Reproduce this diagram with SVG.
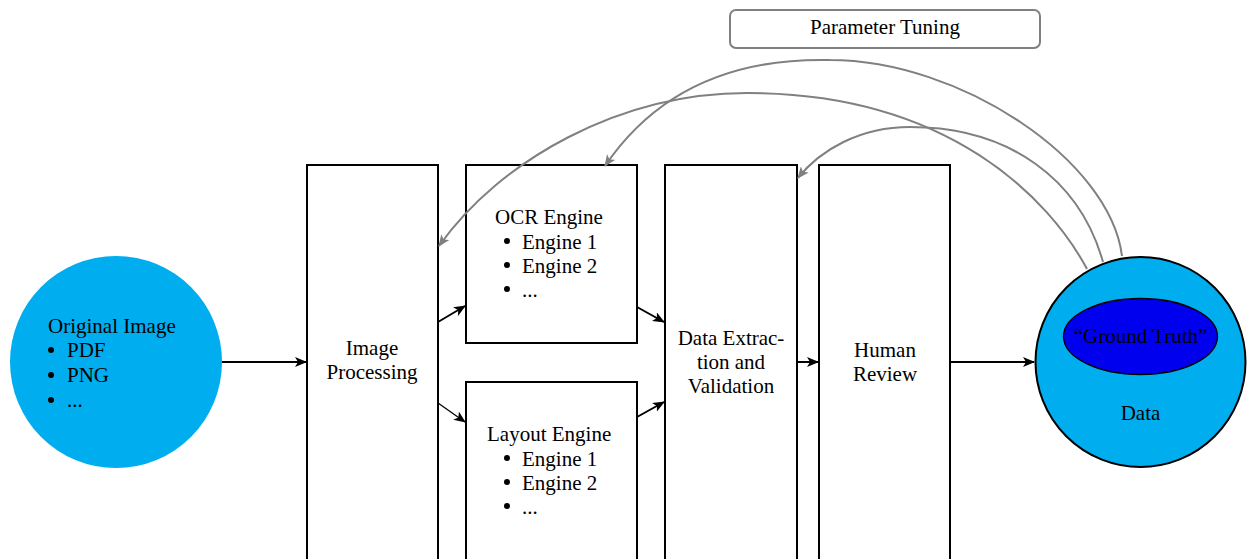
<svg xmlns="http://www.w3.org/2000/svg" width="1247" height="559" viewBox="0 0 1247 559">
<style>
text{font-family:"Liberation Serif","Times New Roman",serif;font-size:21px;fill:#000}
.c{text-anchor:middle}
.box{fill:#fff;stroke:#000;stroke-width:2}
.blk{fill:none;stroke:#000;stroke-width:2}
.thin{fill:none;stroke:#000;stroke-width:1.3}
.gry{fill:none;stroke:#808080;stroke-width:2}
.dot{fill:#000}
</style>
<defs>
<marker id="ab" viewBox="0 0 12 10" refX="11" refY="5" markerWidth="12" markerHeight="10" markerUnits="userSpaceOnUse" orient="auto">
<path d="M0,0 L12,5 L0,10 L3,5 Z" fill="#000"/>
</marker>
<marker id="ag" viewBox="0 0 12 10" refX="11" refY="5" markerWidth="12" markerHeight="10" markerUnits="userSpaceOnUse" orient="auto">
<path d="M0,0 L12,5 L0,10 L3,5 Z" fill="#808080"/>
</marker>
</defs>
<rect width="1247" height="559" fill="#fff"/>
<g id="original-image">
<circle cx="116" cy="362" r="106" fill="#00AEEF"/>
<text x="48" y="333">Original Image</text>
<circle class="dot" cx="51" cy="350" r="3"/><text x="67" y="357">PDF</text>
<circle class="dot" cx="51" cy="375" r="3"/><text x="67" y="382">PNG</text>
<circle class="dot" cx="51" cy="400" r="3"/><text x="67" y="407">...</text>
</g>
<g id="image-processing">
<rect class="box" x="307" y="165" width="131" height="400"/>
<text class="c" x="372" y="355">Image</text>
<text class="c" x="372" y="379">Processing</text>
</g>
<g id="ocr-engine">
<rect class="box" x="466" y="165" width="171" height="178"/>
<text x="495" y="224">OCR Engine</text>
<circle class="dot" cx="507" cy="241" r="3"/><text x="522" y="249">Engine 1</text>
<circle class="dot" cx="507" cy="265" r="3"/><text x="522" y="273">Engine 2</text>
<circle class="dot" cx="507" cy="289" r="3"/><text x="522" y="297">...</text>
</g>
<g id="layout-engine">
<rect class="box" x="466" y="382" width="171" height="190"/>
<text x="487" y="441">Layout Engine</text>
<circle class="dot" cx="507" cy="458" r="3"/><text x="522" y="466">Engine 1</text>
<circle class="dot" cx="507" cy="482" r="3"/><text x="522" y="490">Engine 2</text>
<circle class="dot" cx="507" cy="506" r="3"/><text x="522" y="514">...</text>
</g>
<g id="data-extraction">
<rect class="box" x="665" y="165" width="132" height="400"/>
<text class="c" x="731" y="345">Data Extrac-</text>
<text class="c" x="731" y="369">tion and</text>
<text class="c" x="731" y="393">Validation</text>
</g>
<g id="human-review">
<rect class="box" x="819" y="165" width="131" height="400"/>
<text class="c" x="885" y="357">Human</text>
<text class="c" x="885" y="381">Review</text>
</g>
<g id="data">
<circle cx="1140.5" cy="362" r="105" fill="#00AEEF" stroke="#000" stroke-width="2"/>
<ellipse cx="1140.5" cy="336.5" rx="77" ry="38" fill="#0000EE" stroke="#000" stroke-width="1.3"/>
<text class="c" x="1140.5" y="343">“Ground Truth”</text>
<text class="c" x="1140.5" y="420">Data</text>
</g>
<g id="parameter-tuning">
<rect x="730" y="10" width="310" height="38" rx="6" fill="#fff" stroke="#808080" stroke-width="2"/>
<text class="c" x="885" y="34">Parameter Tuning</text>
</g>
<g id="connectors">
<line class="blk" x1="222" y1="362" x2="306" y2="362" marker-end="url(#ab)"/>
<line class="blk" x1="438" y1="322" x2="465" y2="306" marker-end="url(#ab)"/>
<line class="thin" x1="438" y1="403" x2="465" y2="422" marker-end="url(#ab)"/>
<line class="blk" x1="637" y1="307" x2="664" y2="322" marker-end="url(#ab)"/>
<line class="blk" x1="637" y1="417" x2="664" y2="402" marker-end="url(#ab)"/>
<line class="blk" x1="797" y1="362" x2="818" y2="362" marker-end="url(#ab)"/>
<line class="blk" x1="950" y1="362" x2="1034" y2="362" marker-end="url(#ab)"/>
<path class="gry" d="M1122,256 C1110,160 960,60 830,60 C740,58 660,85 605,166" marker-end="url(#ag)"/>
<path class="gry" d="M1087,269 C1050,200 950,93 747,93 C620,93 500,160 439,246" marker-end="url(#ag)"/>
<path class="gry" d="M1103,262 C1080,180 1010,127 910,127 C860,127 820,150 798,178" marker-end="url(#ag)"/>
</g>
</svg>
